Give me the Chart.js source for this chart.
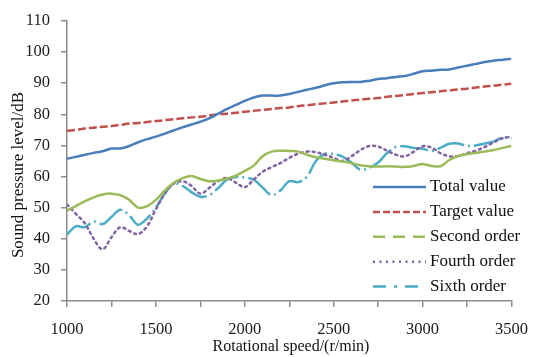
<!DOCTYPE html>
<html>
<head>
<meta charset="utf-8">
<script src="https://cdn.jsdelivr.net/npm/chart.js@4.4.1/dist/chart.umd.min.js"></script>
<style>
  body { margin: 0; background: #fff; }
  #wrap { width: 541px; height: 357px; }
</style>
</head>
<body>
<div id="wrap"><canvas id="results" width="541" height="357"></canvas></div>
<script>
// rotational speed, r/min (every 50)
const speeds = [1000,1050,1100,1150,1200,1250,1300,1350,1400,1450,
                1500,1550,1600,1650,1700,1750,1800,1850,1900,1950,
                2000,2050,2100,2150,2200,2250,2300,2350,2400,2450,
                2500,2550,2600,2650,2700,2750,2800,2850,2900,2950,
                3000,3050,3100,3150,3200,3250,3300,3350,3400,3450,3500];

const totalValue  = [65.7,66.3,67.0,67.6,68.1,69.0,69.0,69.8,71.0,72.0,
                     72.8,73.8,74.8,75.8,76.7,77.6,78.7,80.2,81.7,83.0,
                     84.3,85.4,86.0,86.0,86.0,86.5,87.2,87.9,88.5,89.3,
                     90.0,90.3,90.4,90.4,90.8,91.3,91.6,92.0,92.3,93.0,
                     93.8,94.0,94.3,94.4,95.0,95.6,96.2,96.8,97.2,97.5,97.8];

const targetValue = [74.7,75.0,75.4,75.7,76.0,76.2,76.6,77.0,77.2,77.5,
                     77.8,78.1,78.4,78.7,79.0,79.2,79.6,80.0,80.2,80.5,
                     80.8,81.1,81.4,81.7,82.0,82.2,82.6,82.9,83.2,83.5,
                     83.8,84.1,84.4,84.7,85.0,85.2,85.6,85.9,86.2,86.5,
                     86.8,87.1,87.4,87.7,88.0,88.2,88.6,88.9,89.2,89.5,89.8];

const secondOrder = [49.0,50.5,52.0,53.3,54.2,54.5,54.0,52.5,50.0,50.5,
                     52.5,55.5,58.0,59.5,60.2,59.2,58.5,58.7,59.3,60.3,
                     61.8,63.5,66.5,68.0,68.3,68.2,68.0,67.0,66.2,65.7,
                     65.2,64.8,64.3,63.6,63.3,63.2,63.3,63.2,63.1,63.4,
                     64.0,63.4,63.3,65.3,66.6,67.2,67.6,68.0,68.5,69.2,69.8];

const fourthOrder = [51.0,48.0,45.0,40.0,36.6,40.5,43.7,42.5,41.5,44.0,
                     49.5,54.5,57.7,58.5,57.0,54.5,56.3,58.5,59.5,58.0,
                     56.6,59.0,61.5,63.0,64.3,66.0,67.3,68.0,67.8,67.0,
                     66.0,65.0,66.5,68.5,69.8,69.6,68.3,67.0,66.5,68.0,
                     69.7,69.3,67.5,66.5,66.6,67.5,68.3,69.5,71.0,72.3,72.8];

const sixthOrder  = [41.4,44.0,43.7,45.5,44.7,47.0,49.3,47.5,44.5,46.5,
                     50.0,54.5,57.7,57.0,55.0,53.5,54.0,56.3,59.0,59.8,
                     59.7,59.0,56.5,54.0,55.5,58.5,58.2,60.0,65.0,67.3,
                     67.2,66.4,64.5,62.2,62.8,64.5,67.5,69.5,69.7,69.2,
                     68.9,68.2,69.2,70.5,70.6,69.8,70.0,70.6,71.3,72.5,72.3];

const seriesNames = ['Total value','Target value','Second order','Fourth order','Sixth order'];

const serif = "'Liberation Serif', 'DejaVu Serif', serif";
const axisGrey = '#8c8c8c';

function pts(ys){
    return speeds.map((s, i) => ({x: s, y: ys[i]}));
}

// legend + axis titles drawn by hand (legend sits inside the plot)
const legendDash = [[], [7,3], [12,8], [2,4.5], [13,8,3,8]];
const overlay = {
    id: 'overlay',
    afterDraw(chart){
        const ctx = chart.ctx;
        ctx.save();
        ctx.fillStyle = '#111';
        ctx.textBaseline = 'middle';
        // legend
        ctx.font = '17px ' + serif;
        chart.data.datasets.forEach((ds, i) => {
            const y = 187 + i * 24.9;
            ctx.beginPath();
            ctx.strokeStyle = ds.borderColor;
            ctx.lineWidth = 2.5;
            ctx.setLineDash(legendDash[i]);
            ctx.moveTo(373, y);
            ctx.lineTo(426, y);
            ctx.stroke();
            ctx.setLineDash([]);
            ctx.textAlign = 'left';
            ctx.fillText(ds.label, 430, y);
        });
        // x title
        ctx.font = '16px ' + serif;
        ctx.textAlign = 'center';
        ctx.fillText('Rotational speed/(r/min)', 291, 347);
        // y title
        ctx.translate(19, 175);
        ctx.rotate(-Math.PI / 2);
        ctx.font = '17px ' + serif;
        ctx.fillText('Sound pressure level/dB', 0, 0);
        ctx.restore();
    }
};

const colors = ['#4a7ebb', '#c0504d', '#9bbb59', '#8064a2', '#4bacc6'];
const dashes = [[], [8,3], [], [2,4], [28,4,2,4]];
const values = [totalValue, targetValue, secondOrder, fourthOrder, sixthOrder];

const myChart = new Chart(document.getElementById('results'), {
    type: 'line',
    data: {
        datasets: values.map((v, i) => ({
            label: seriesNames[i],
            data: pts(v),
            borderColor: colors[i],
            borderWidth: 2.5,
            borderDash: dashes[i],
            borderCapStyle: i === 3 ? 'round' : 'butt',
            pointRadius: 0,
            tension: 0.35,
            fill: false
        }))
    },
    options: {
        responsive: false,
        animation: false,
        layout: { padding: { top: 16, right: 18, left: 0, bottom: 0 } },
        scales: {
            x: {
                type: 'linear',
                min: 1000,
                max: 3500,
                afterFit: s => { s.height = 56; },
                ticks: {
                    stepSize: 250,
                    padding: 13,
                    color: '#1a1a1a',
                    font: { family: serif, size: 16.5 },
                    maxRotation: 0,
                    callback: v => v % 500 === 0 ? v : ''
                },
                grid: { drawOnChartArea: false, tickLength: 6, color: axisGrey, lineWidth: 1.5 },
                border: { color: axisGrey, width: 1.5 }
            },
            y: {
                min: 20,
                max: 110,
                afterFit: s => { s.width = 67; },
                ticks: {
                    stepSize: 5,
                    padding: 11,
                    color: '#1a1a1a',
                    font: { family: serif, size: 16.5 },
                    callback: v => v % 10 === 0 ? v : ''
                },
                grid: { drawOnChartArea: false, tickLength: 6, color: axisGrey, lineWidth: 1.5 },
                border: { color: axisGrey, width: 1.5 }
            }
        },
        plugins: {
            legend: { display: false },
            tooltip: { enabled: false }
        }
    },
    plugins: [overlay]
});
</script>
</body>
</html>
